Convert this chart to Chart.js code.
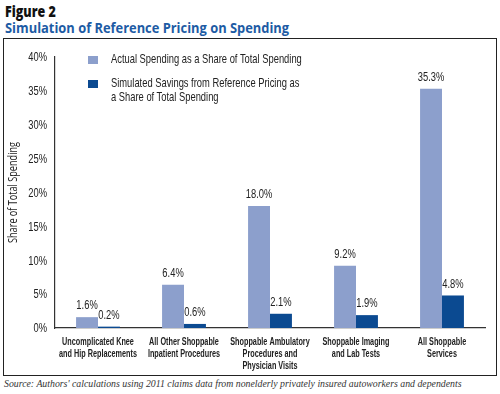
<!DOCTYPE html>
<html>
<head>
<meta charset="utf-8">
<script src="https://cdn.jsdelivr.net/npm/chart.js@4.4.1/dist/chart.umd.min.js"></script>
<style>
  body { margin: 0; background: #fff; width: 500px; height: 394px; position: relative; overflow: hidden; }
  .fig { position: absolute; left: 5px; top: 0px; font: 800 16px 'Open Sans', sans-serif; color: #111; transform: scaleX(0.78); transform-origin: left; }
  .title { position: absolute; left: 5px; top: 18px; font: bold 14px 'Open Sans', sans-serif; color: #1d5ba4; white-space: nowrap; transform: scaleX(0.92); transform-origin: left; }
  .box { position: absolute; left: 3px; top: 38px; width: 492px; height: 336px; border: 1px solid #222; }
  .box canvas { position: absolute; left: 0; top: 0; }
  .legend { position: absolute; left: 84px; top: 13px; font: 13px 'Liberation Sans', sans-serif; color: #222; line-height: 14px; }
  .legend .row { position: relative; padding-left: 23px; margin-bottom: 10px; }
  .legend .txt { display: inline-block; transform: scaleX(0.72); transform-origin: left; white-space: nowrap; }
  .legend .sw { position: absolute; left: 0; top: 4px; width: 10px; height: 8px; }
  .source { position: absolute; left: 4px; top: 378px; font: italic 9.8px 'Liberation Serif', serif; color: #333; white-space: nowrap; }
</style>
</head>
<body>
<div class="fig">Figure 2</div>
<div class="title">Simulation of Reference Pricing on Spending</div>
<div class="box">
  <canvas id="chart" width="492" height="336"></canvas>
  <div class="legend">
    <div class="row"><span class="sw" style="background:#8c9fcc"></span><span class="txt">Actual Spending as a Share of Total Spending</span></div>
    <div class="row"><span class="sw" style="background:#0b4a91"></span><span class="txt">Simulated Savings from Reference Pricing as<br>a Share of Total Spending</span></div>
  </div>
</div>
<div class="source">Source: Authors' calculations using 2011 claims data from nonelderly privately insured autoworkers and dependents</div>

<script>
// chart data
const categories = [
    ['Uncomplicated Knee', 'and Hip Replacements'],
    ['All Other Shoppable', 'Inpatient Procedures'],
    ['Shoppable Ambulatory', 'Procedures and', 'Physician Visits'],
    ['Shoppable Imaging', 'and Lab Tests'],
    ['All Shoppable', 'Services']
];
const actualSpending = [1.6, 6.4, 18.0, 9.2, 35.3];
const simulatedSavings = [0.2, 0.6, 2.1, 1.9, 4.8];
const yTicks = [0, 5, 10, 15, 20, 25, 30, 35, 40];
const yTitle = 'Share of Total Spending';

// no condensed font is installed, so squeeze text horizontally
function narrowText(ctx, text, x, y, sx) {
    ctx.save();
    ctx.translate(x, y);
    ctx.scale(sx, 1);
    ctx.fillText(text, 0, 0);
    ctx.restore();
}

// tick labels, axis title and bar values
const textLayer = {
    id: 'textLayer',
    afterDraw(chart) {
        const ctx = chart.ctx;
        const xs = chart.scales.x, ys = chart.scales.y;
        ctx.save();
        ctx.fillStyle = '#222';

        // y ticks
        ctx.font = '12px "Liberation Sans", sans-serif';
        ctx.textAlign = 'right';
        ctx.textBaseline = 'middle';
        yTicks.forEach(v => narrowText(ctx, v + '%', ys.right - 8, ys.getPixelForValue(v) + 1, 0.78));

        // category labels
        ctx.font = 'bold 11px "Liberation Sans", sans-serif';
        ctx.textAlign = 'center';
        ctx.textBaseline = 'middle';
        categories.forEach((lines, i) => {
            const cx = xs.getPixelForValue(i);
            lines.forEach((ln, k) => narrowText(ctx, ln, cx, xs.top + 14 + k * 12, 0.66));
        });

        // y axis title
        ctx.save();
        ctx.font = '12px "Open Sans", sans-serif';
        ctx.textAlign = 'center';
        ctx.textBaseline = 'middle';
        ctx.translate(10, (ys.top + ys.bottom) / 2);
        ctx.rotate(-Math.PI / 2);
        narrowText(ctx, yTitle, 0, 0, 0.76);
        ctx.restore();

        // values above bars
        ctx.font = '12px "Liberation Sans", sans-serif';
        ctx.textAlign = 'center';
        ctx.textBaseline = 'bottom';
        chart.data.datasets.forEach((ds, i) => {
            chart.getDatasetMeta(i).data.forEach((bar, j) => {
                narrowText(ctx, ds.data[j].toFixed(1) + '%', bar.x, bar.y - 5, 0.78);
            });
        });
        ctx.restore();
    }
};

new Chart(document.getElementById('chart'), {
    type: 'bar',
    data: {
        labels: categories,
        datasets: [
            { label: 'Actual Spending as a Share of Total Spending', data: actualSpending, backgroundColor: '#8c9fcc' },
            { label: 'Simulated Savings from Reference Pricing as a Share of Total Spending', data: simulatedSavings, backgroundColor: '#0b4a91' }
        ]
    },
    options: {
        responsive: false,
        animation: false,
        layout: { padding: { top: 18, right: 11, left: 0, bottom: 0 } },
        datasets: { bar: { barPercentage: 1, categoryPercentage: 0.51 } },
        plugins: { legend: { display: false }, tooltip: { enabled: false } },
        scales: {
            x: {
                grid: { display: false, drawTicks: false },
                border: { display: true, color: '#333', width: 1.2, dash: [1.5, 2.5] },
                ticks: { display: false },
                afterFit(scale) { scale.height = 47; }
            },
            y: {
                min: 0,
                max: 40,
                afterBuildTicks(scale) { scale.ticks = yTicks.map(v => ({ value: v })); },
                grid: { display: false, drawTicks: false },
                border: { display: true, color: '#333', width: 1.2, dash: [1.5, 2.5] },
                ticks: { display: false },
                afterFit(scale) { scale.width = 51; }
            }
        }
    },
    plugins: [textLayer]
});
</script>
</body>
</html>
